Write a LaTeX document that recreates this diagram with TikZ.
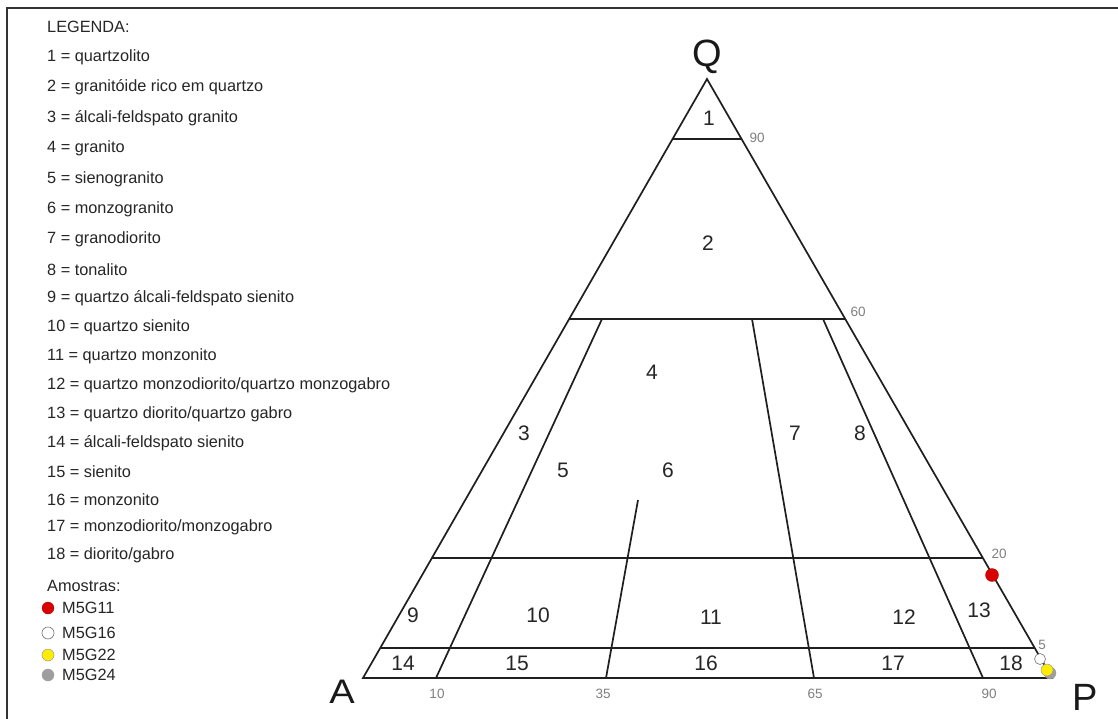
\documentclass[tikz,border=0pt]{standalone}
\usepackage{fontspec}
\setmainfont{Liberation Sans}
\begin{document}
\begin{tikzpicture}[x=1pt,y=-1pt,
  edge/.style={draw=black!88, line width=1.7pt},
  frame/.style={draw=black!80, line width=1.8pt},
  field/.style={font=\fontsize{21}{23}\selectfont, text=black!85, inner sep=0pt},
  tick/.style={font=\fontsize{13.5}{15}\selectfont, text=black!50, inner sep=0pt},
  apex/.style={font=\fontsize{38}{40}\selectfont, text=black!90, inner sep=0pt},
  legtext/.style={font=\fontsize{16.3}{18}\selectfont, text=black!85, anchor=west, inner sep=0pt},
  sample/.style={circle, inner sep=0pt, minimum size=#1},
  red sample/.style={sample=13pt, fill=red!85!black, draw=red!70!black, line width=0.3pt},
  white sample/.style={sample=11pt, fill=white, draw=black!55, line width=0.6pt},
  yellow sample/.style={sample=12pt, fill=yellow!95!orange, draw=black!40, line width=0.5pt},
  grey sample/.style={sample=12pt, fill=black!38, draw=black!40, line width=0.3pt}]
\useasboundingbox (0,0) rectangle (1118,719);
\fill[white] (0,0) rectangle (1118,719);

% outer frame (top and left sides)
\draw[frame] (1118,8) -- (7,8) -- (7,719);

% triangle corners and field boundaries
\coordinate (A) at (363,678);
\coordinate (P) at (1052,678);
\coordinate (Q) at (707,79);
\coordinate (q90l) at (673,139);  \coordinate (q90r) at (741,139);
\coordinate (q60l) at (569,319);  \coordinate (q60r) at (845,319);
\coordinate (q20l) at (432,558);  \coordinate (q20r) at (983,558);
\coordinate (q5l)  at (380,648);  \coordinate (q5r)  at (1035,648);
\coordinate (b10) at (436,678);   \coordinate (t10) at (602,319);
\coordinate (b35) at (606,678);   \coordinate (t35) at (638,500);
\coordinate (b65) at (814,678);   \coordinate (t65) at (752,319);
\coordinate (b90) at (983,678);   \coordinate (t90) at (823,319);

\draw[edge, line join=miter] (A) -- (Q) -- (P) -- cycle;
\draw[edge] (q90l) -- (q90r);
\draw[edge] (q60l) -- (q60r);
\draw[edge] (q20l) -- (q20r);
\draw[edge] (q5l) -- (q5r);
\draw[edge] (b10) -- (t10);
\draw[edge] (b35) -- (t35);
\draw[edge] (b65) -- (t65);
\draw[edge] (b90) -- (t90);

% corner letters
\node[apex] (lQ) at (707,57) {Q};
\node[apex, font=\fontsize{34}{36}\selectfont, xscale=1.12] (lA) at (342,692) {A};
\node[apex] (lP) at (1085,697) {P};

% field numbers
\node[field] (f1) at (709,118) {1};
\node[field] (f2) at (708,243) {2};
\node[field] (f3) at (524,433) {3};
\node[field] (f4) at (652,372) {4};
\node[field] (f5) at (563,470) {5};
\node[field] (f6) at (668,470) {6};
\node[field] (f7) at (795,433) {7};
\node[field] (f8) at (860,433) {8};
\node[field] (f9) at (413,615) {9};
\node[field] (f10) at (538,615) {10};
\node[field] (f11) at (711,617) {11};
\node[field] (f12) at (904,617) {12};
\node[field] (f13) at (979,610) {13};
\node[field] (f14) at (403,663) {14};
\node[field] (f15) at (517,663) {15};
\node[field] (f16) at (706,663) {16};
\node[field] (f17) at (893,663) {17};
\node[field] (f18) at (1011,663) {18};

% scale values
\node[tick] (s90) at (757,138) {90};
\node[tick] (s60) at (858,312) {60};
\node[tick] (s20) at (999,554) {20};
\node[tick] (s5) at (1042,645) {5};
\node[tick] (p10) at (437,694) {10};
\node[tick] (p35) at (603,694) {35};
\node[tick] (p65) at (815,694) {65};
\node[tick] (p90) at (989,694) {90};

% plotted samples
\node[red sample] (m11) at (992,575) {};
\node[white sample] (m16) at (1040,659) {};
\node[grey sample] (m24) at (1050,673) {};
\node[yellow sample] (m22) at (1047,670) {};

% legend
\node[legtext] (lg) at (47,27) {LEGENDA:};
\node[legtext] (l1) at (47,57) {1 = quartzolito};
\node[legtext] (l2) at (47,87) {2 = granitóide rico em quartzo};
\node[legtext] (l3) at (47,118) {3 = álcali-feldspato granito};
\node[legtext] (l4) at (47,148) {4 = granito};
\node[legtext] (l5) at (47,179) {5 = sienogranito};
\node[legtext] (l6) at (47,209) {6 = monzogranito};
\node[legtext] (l7) at (47,239) {7 = granodiorito};
\node[legtext] (l8) at (47,270) {8 = tonalito};
\node[legtext] (l9) at (47,298) {9 = quartzo álcali-feldspato sienito};
\node[legtext] (l10) at (47,327) {10 = quartzo sienito};
\node[legtext] (l11) at (47,356) {11 = quartzo monzonito};
\node[legtext] (l12) at (47,385) {12 = quartzo monzodiorito/quartzo monzogabro};
\node[legtext] (l13) at (47,414) {13 = quartzo diorito/quartzo gabro};
\node[legtext] (l14) at (47,443) {14 = álcali-feldspato sienito};
\node[legtext] (l15) at (47,472) {15 = sienito};
\node[legtext] (l16) at (47,500) {16 = monzonito};
\node[legtext] (l17) at (47,527) {17 = monzodiorito/monzogabro};
\node[legtext] (l18) at (47,555) {18 = diorito/gabro};
\node[legtext] (am) at (47,586) {Amostras:};

\node[red sample, minimum size=12pt] (k11) at (48,608) {};
\node[legtext] (t11) at (62,608) {M5G11};
\node[white sample, minimum size=12pt] (k16) at (48,633) {};
\node[legtext] (t16) at (62,633) {M5G16};
\node[yellow sample] (k22) at (48,655) {};
\node[legtext] (t22) at (62,655) {M5G22};
\node[grey sample] (k24) at (48,675) {};
\node[legtext] (t24) at (62,675) {M5G24};
\end{tikzpicture}
\end{document}
